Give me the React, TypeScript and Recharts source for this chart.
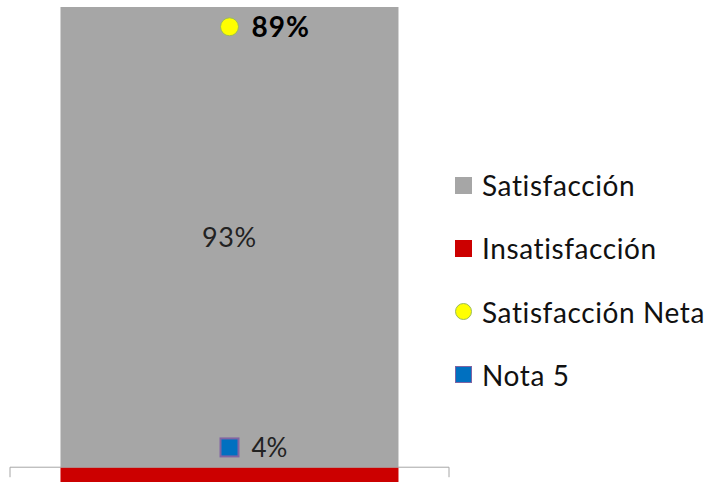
import * as React from 'react';
import { ComposedChart, Bar, Line, XAxis, YAxis, ReferenceLine, LabelList } from 'recharts';

const categories = ['Total'];
const satisfaccion = [93];
const insatisfaccion = [-4];
const satisfaccionNeta = [89];
const nota5 = [4];

const legendItems = [
  { name: 'Satisfacción', color: '#A6A6A6', shape: 'square' },
  { name: 'Insatisfacción', color: '#CC0000', shape: 'square' },
  { name: 'Satisfacción Neta', color: '#FFFF00', shape: 'circle' },
  { name: 'Nota 5', color: '#0070C0', shape: 'square' },
];

const data = categories.map((c, i) => ({
  name: c,
  sat: satisfaccion[i],
  insat: insatisfaccion[i],
  neta: satisfaccionNeta[i],
  nota: nota5[i],
}));

const FONT = 'Lato, "Open Sans", sans-serif';

function AxisLine(props: any) {
  const { x1, x2, y1 } = props;
  return (
    <g>
      <line x1={x1} x2={x2} y1={y1} y2={y1} stroke="#A6A6A6" strokeWidth={1} />
      <line x1={x1} x2={x1} y1={y1} y2={y1 + 10} stroke="#A6A6A6" strokeWidth={1} />
      <line x1={x2} x2={x2} y1={y1} y2={y1 + 10} stroke="#A6A6A6" strokeWidth={1} />
    </g>
  );
}

function NetaDot(props: any) {
  const { cx, cy } = props;
  return <circle cx={cx} cy={cy} r={9} fill="#FFFF00" stroke="#9BBB59" strokeWidth={1} />;
}

function NotaDot(props: any) {
  const { cx, cy } = props;
  return <rect x={cx - 9} y={cy - 9} width={18} height={18} fill="#0070C0" stroke="#8064A2" strokeWidth={2} />;
}

export default function App() {
  return (
    <div style={{ position: 'fixed', top: 0, left: 0, width: 707, height: 482, overflow: 'hidden', background: '#fff', fontFamily: FONT }}>
      <ComposedChart
        width={707}
        height={500}
        data={data}
        stackOffset="sign"
        barCategoryGap="11.5%"
        margin={{ top: 7, right: 258, bottom: 13, left: 10 }}
      >
        <XAxis dataKey="name" hide />
        <YAxis hide domain={[-4, 93]} />
        <Bar dataKey="sat" stackId="a" fill="#A6A6A6" isAnimationActive={false}>
          <LabelList
            dataKey="sat"
            position="center"
            formatter={(v: any) => `${v}%`}
            style={{ fontSize: 27, letterSpacing: 0.6, fill: '#222', fontFamily: FONT }}
          />
        </Bar>
        <Bar dataKey="insat" stackId="a" fill="#CC0000" isAnimationActive={false} />
        <ReferenceLine y={0} shape={AxisLine} />
        <Line
          dataKey="neta"
          stroke="none"
          dot={NetaDot}
          activeDot={false}
          isAnimationActive={false}
        >
          <LabelList
            dataKey="neta"
            position="right"
            offset={22}
            formatter={(v: any) => `${v}%`}
            style={{ fontSize: 28, letterSpacing: 1, fontWeight: 700, fill: '#000', fontFamily: FONT }}
          />
        </Line>
        <Line
          dataKey="nota"
          stroke="none"
          dot={NotaDot}
          activeDot={false}
          isAnimationActive={false}
        >
          <LabelList
            dataKey="nota"
            position="right"
            offset={22}
            formatter={(v: any) => `${v}%`}
            style={{ fontSize: 26, fill: '#222', fontFamily: FONT }}
          />
        </Line>
      </ComposedChart>
      <div style={{ position: 'absolute', left: 455, top: 169 }}>
        {legendItems.map((it) => (
          <div key={it.name} style={{ display: 'flex', alignItems: 'center', height: 32, marginBottom: 31.3 }}>
            <span
              style={{
                display: 'inline-block',
                width: 17,
                height: 17,
                background: it.color,
                borderRadius: it.shape === 'circle' ? '50%' : 0,
                border: it.shape === 'circle' ? '1px solid #9BBB59' : it.name === 'Nota 5' ? '1px solid #8064A2' : 'none',
                boxSizing: 'border-box',
                marginRight: 10,
              }}
            />
            <span style={{ fontSize: 28, letterSpacing: 0.6, color: '#111', whiteSpace: 'nowrap', lineHeight: '32px' }}>{it.name}</span>
          </div>
        ))}
      </div>
    </div>
  );
}
